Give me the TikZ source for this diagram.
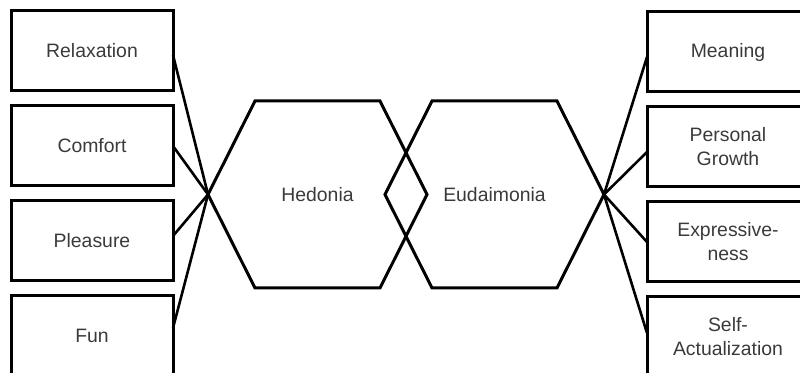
\documentclass[tikz,border=0pt]{standalone}
\usepackage{fontspec}
\setmainfont{Liberation Sans}
\usepackage{xcolor}
\usepackage{tikz}
\usetikzlibrary{positioning,shapes,calc}
\definecolor{ink}{HTML}{3A3A3A}
\definecolor{edge}{HTML}{000000}
\tikzset{
    box/.style={rectangle, draw=edge, line width=1.5pt, minimum width=81pt, minimum height=40pt, inner sep=0pt, outer sep=0pt, align=center, font=\fontsize{9.7}{12}\selectfont, text=ink},
    hexline/.style={draw=edge, line width=1.5pt},
    hexlabel/.style={inner sep=0pt, font=\fontsize{9.7}{12}\selectfont, text=ink},
    link/.style={line width=1.3pt, color=edge}
}

\begin{document}
\begin{tikzpicture}[x=0.5pt, y=0.5pt, node distance=7.5pt]
\useasboundingbox (0,0) rectangle (800,373);
\clip (0,0) rectangle (800,373);

% Hedonia / Eudaimonia hexagons
\node[hexlabel] at (317.5,178.5) (hed) {Hedonia};
\node[hexlabel] at (494.5,178.5) (eud) {Eudaimonia};
\draw[hexline] (hed.center) ++(-109.5,0) coordinate (hedL) -- ++(47,93.5) -- ++(125,0) -- ++(47,-93.5) coordinate (hedR) -- ++(-47,-93.5) -- ++(-125,0) -- cycle;
\draw[hexline] (eud.center) ++(-109.5,0) coordinate (eudL) -- ++(47,93.5) -- ++(125,0) -- ++(47,-93.5) coordinate (eudR) -- ++(-47,-93.5) -- ++(-125,0) -- cycle;

% Hedonic side
\node[box] at (92,322) (rlx) {Relaxation};
\node[box, below=of rlx] (cmf) {Comfort};
\node[box, below=of cmf] (pls) {Pleasure};
\node[box, below=of pls] (fun) {Fun};

% Eudaimonic side
\node[box] at (728,321) (mng) {Meaning};
\node[box, below=of mng] (grw) {Personal\\Growth};
\node[box, below=of grw] (xpr) {Expressive-\\ness};
\node[box, below=of xpr] (sfa) {Self-\\Actualization};

\draw[link] ([yshift=-2pt]rlx.east) -- (hedL);
\draw[link] (cmf.east) -- (hedL);
\draw[link] ([yshift=2.5pt]pls.east) -- (hedL);
\draw[link] ([yshift=4pt]fun.east) -- (hedL);

\draw[link] ([yshift=-2.5pt]mng.west) -- (eudR);
\draw[link] ([yshift=-2.5pt]grw.west) -- (eudR);
\draw[link] (xpr.west) -- (eudR);
\draw[link] ([yshift=2pt]sfa.west) -- (eudR);

\end{tikzpicture}
\end{document}
